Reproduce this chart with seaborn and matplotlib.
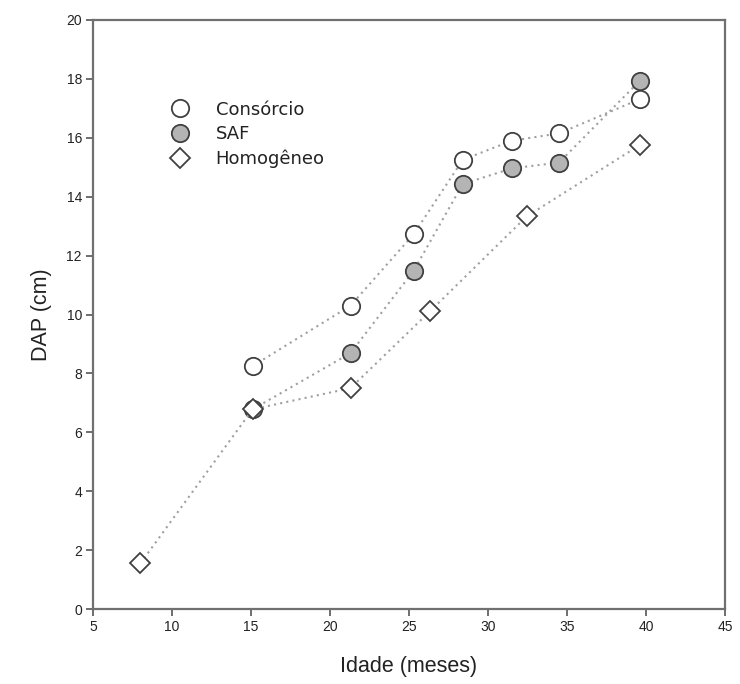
import matplotlib
matplotlib.use("Agg")
import matplotlib.pyplot as plt
from matplotlib.lines import Line2D
import seaborn as sns

# Data
cons_x = [15.1, 21.3, 25.3, 28.4, 31.5, 34.5, 39.6]
cons_y = [8.25, 10.3, 12.73, 15.25, 15.9, 16.15, 17.31]
saf_x = [15.1, 21.3, 25.3, 28.4, 31.5, 34.5, 39.6]
saf_y = [6.78, 8.69, 11.49, 14.43, 14.96, 15.16, 17.93]
hom_x = [8.0, 15.1, 21.3, 26.35, 32.45, 39.6]
hom_y = [1.55, 6.78, 7.5, 10.12, 13.33, 15.75]
labels = ["Consórcio", "SAF", "Homogêneo"]
x_ticks = [5, 10, 15, 20, 25, 30, 35, 40, 45]
y_ticks = [0, 2, 4, 6, 8, 10, 12, 14, 16, 18, 20]

sns.set_theme(style="white")
plt.rcParams['font.family'] = ['Liberation Sans', 'DejaVu Sans']

fig = plt.figure(figsize=(7.4, 6.84), dpi=100)
ax = fig.add_axes([0.1257, 0.1096, 0.8540, 0.8612])

edge = '#404040'
line_c = '#a0a0a0'
styles = [
    (cons_x, cons_y, 'o', 'white', 12.5),
    (saf_x, saf_y, 'o', '#b4b4b4', 12.5),
    (hom_x, hom_y, 'D', 'white', 10.5),
]
for xs, ys, mk, fc, ms in styles:
    sns.lineplot(x=xs, y=ys, ax=ax, color=line_c, linestyle=(0, (1, 2)),
                 linewidth=1.5, marker=mk, markersize=ms,
                 markerfacecolor=fc, markeredgecolor=edge, markeredgewidth=1.3,
                 sort=False)

ax.set_xlim(5, 45)
ax.set_ylim(0, 20)
ax.set_xticks(x_ticks)
ax.set_yticks(y_ticks)
ax.tick_params(axis='both', direction='out', length=5, width=1.2,
               color='#555555', labelsize=10, labelcolor='#222222', pad=3)
ax.xaxis.set_ticks_position('bottom')
ax.yaxis.set_ticks_position('left')
for s in ax.spines.values():
    s.set_color('#707070')
    s.set_linewidth(1.6)
    s.set_visible(True)

ax.set_xlabel("Idade (meses)", fontsize=15.5, color='#222222', labelpad=16)
ax.set_ylabel("DAP (cm)", fontsize=15.5, color='#222222', labelpad=10)

handles = [
    Line2D([], [], linestyle='none', marker='o', markersize=12.5,
           markerfacecolor='white', markeredgecolor=edge, markeredgewidth=1.3),
    Line2D([], [], linestyle='none', marker='o', markersize=12.5,
           markerfacecolor='#b4b4b4', markeredgecolor=edge, markeredgewidth=1.3),
    Line2D([], [], linestyle='none', marker='D', markersize=10.5,
           markerfacecolor='white', markeredgecolor=edge, markeredgewidth=1.3),
]
leg = ax.legend(handles, labels, loc='upper left',
                bbox_to_anchor=(0.121, 0.863), frameon=False,
                prop={'family': 'DejaVu Sans', 'size': 13},
                handletextpad=1.35, labelspacing=0.36,
                borderaxespad=0, borderpad=0, handlelength=1.2)
for t in leg.get_texts():
    t.set_color('#222222')

fig.savefig("out.png", dpi=100)
